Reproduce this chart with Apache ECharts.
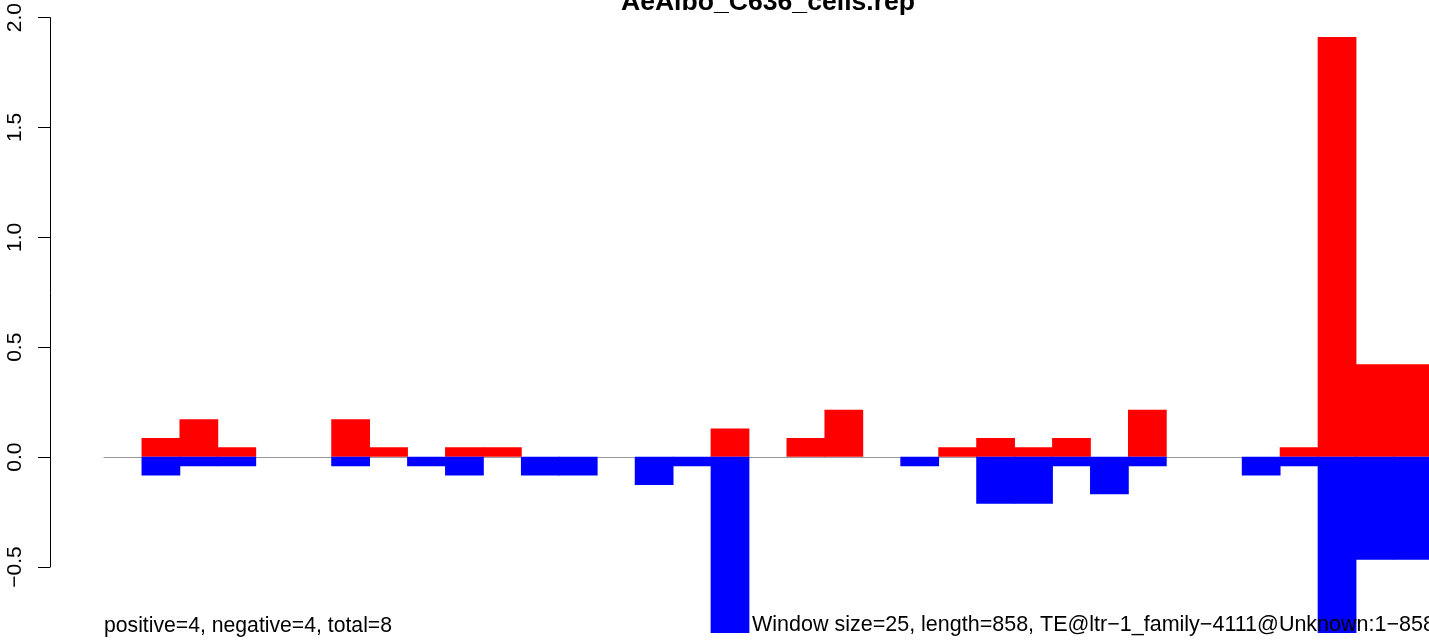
<!DOCTYPE html>
<html>
<head>
<meta charset="utf-8">
<script src="https://cdn.jsdelivr.net/npm/echarts@6/dist/echarts.min.js"></script>
<style>
html,body{margin:0;padding:0;background:#fff;}
#chart{width:1429px;height:641px;}
</style>
</head>
<body>
<div id="chart"></div>
<script>
// ---- data ----
var chartTitle = 'AeAlbo_C636_cells.rep';
var leftNote = 'positive=4, negative=4, total=8';
var rightNote = 'Window size=25, length=858, TE@ltr\u22121_family\u22124111@Unknown:1\u2212858';
var windows = ['1','26','51','76','101','126','151','176','201','226','251','276','301','326','351','376','401','426','451','476','501','526','551','576','601','626','651','676','701','726','751','776','801','826','851'];
var positiveVals = [0, 0.085, 0.17, 0.043, 0, 0, 0.17, 0.043, 0, 0.043, 0.043, 0, 0, 0, 0, 0, 0.128, 0, 0.085, 0.213, 0, 0, 0.043, 0.085, 0.043, 0.085, 0, 0.213, 0, 0, 0, 0.043, 1.905, 0.42, 0.42];
var negativeVals = [0, -0.085, -0.043, -0.043, 0, 0, -0.043, 0, -0.043, -0.085, 0, -0.085, -0.085, 0, -0.128, -0.043, -0.80, 0, 0, 0, 0, -0.043, 0, -0.213, -0.213, -0.043, -0.17, -0.043, 0, 0, -0.085, -0.043, -0.80, -0.467, -0.467];
var yTicks = [-0.5, 0, 0.5, 1.0, 1.5, 2.0];

// ---- layout ----
var FONT = '"Liberation Sans", Arial, Helvetica, sans-serif';
var pxPerUnit = 551 / 2.5;     // -0.5 .. 2.0 over 551px
var plotTop = 16;
var plotLeft = 104;
var slotPx = 37.94;            // width of one window on screen
var barMin = -0.80;
var barHeight = (yTicks[yTicks.length-1] - barMin) * pxPerUnit;
var visibleWidth = 1429 - plotLeft;

// bar centres derived from window index (empty windows draw nothing)
function toPoints(vals){
  return vals.map(function(v, i){ return [i + 0.5, v === 0 ? '-' : v]; });
}
var posData = toPoints(positiveVals);
var negData = toPoints(negativeVals);

var chart = echarts.init(document.getElementById('chart'), null, {renderer:'canvas'});
chart.setOption({
  animation: false,
  backgroundColor: '#ffffff',
  grid: [
    {left: 50, top: plotTop, width: 10, height: 551, containLabel: false},
    {left: plotLeft, top: plotTop, width: visibleWidth, height: barHeight, containLabel: false}
  ],
  xAxis: [
    {gridIndex: 0, type: 'value', show: false},
    {gridIndex: 1, type: 'value', min: 0, max: visibleWidth / slotPx,
     axisLine: {show: true, onZero: true, lineStyle: {color: '#9a9a9a', width: 1.2}},
     axisTick: {show: false}, axisLabel: {show: false}, splitLine: {show: false}}
  ],
  yAxis: [
    {gridIndex: 0, type: 'value', min: yTicks[0], max: yTicks[yTicks.length-1], interval: 0.5,
     axisLine: {show: true, lineStyle: {color: '#000', width: 1}},
     axisTick: {show: true, length: 12, lineStyle: {color: '#000', width: 1}},
     splitLine: {show: false},
     axisLabel: {show: true, rotate: 90, margin: 24, color: '#000', fontSize: 21, fontFamily: FONT,
       formatter: function(v){ return v.toFixed(1).replace('-', '\u2212'); }}},
    {gridIndex: 1, type: 'value', min: barMin, max: yTicks[yTicks.length-1], show: false, splitLine:{show:false}}
  ],
  series: [
    {type: 'bar', xAxisIndex: 1, yAxisIndex: 1, data: posData, barGap: '-100%', barWidth: slotPx + 0.8,
     itemStyle: {color: '#ff0000'}, silent: true},
    {type: 'bar', xAxisIndex: 1, yAxisIndex: 1, data: negData, barGap: '-100%', barWidth: slotPx + 0.8,
     itemStyle: {color: '#0000ff'}, silent: true}
  ],
  graphic: [
    {type: 'text', x: 768, y: 16, z: 100, style: {text: chartTitle, font: 'bold 26.6px ' + FONT, fill: '#000', align: 'center', verticalAlign: 'bottom'}},
    {type: 'text', x: 104, y: 637, z: 100, style: {text: leftNote, font: '21.2px ' + FONT, fill: '#000', align: 'left', verticalAlign: 'bottom'}},
    {type: 'text', x: 752, y: 636, z: 100, style: {text: rightNote, font: '21.5px ' + FONT, fill: '#000', align: 'left', verticalAlign: 'bottom'}}
  ]
});
</script>
</body>
</html>
